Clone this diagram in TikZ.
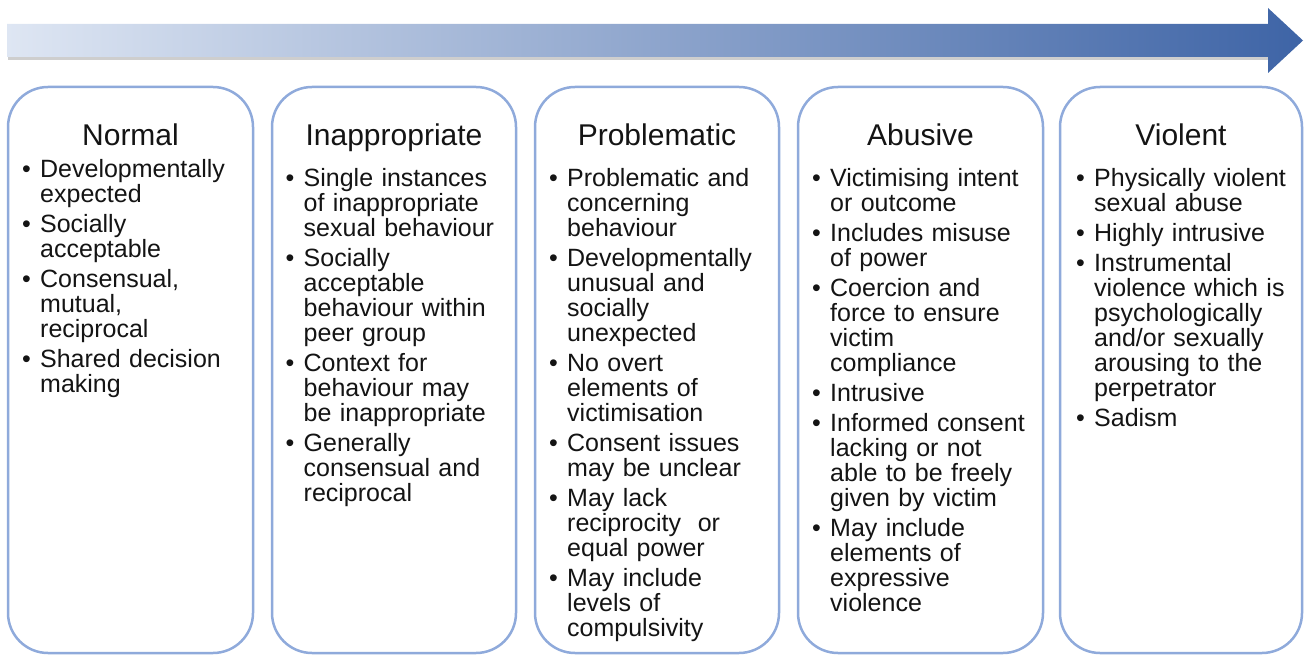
\documentclass[tikz,border=0pt]{standalone}
\usepackage{fontspec}
\setmainfont{Liberation Sans}
\definecolor{panelblue}{RGB}{143,170,219}
\definecolor{arrowlight}{RGB}{222,230,243}
\definecolor{arrowdark}{RGB}{62,100,166}
\definecolor{inktext}{RGB}{20,20,20}
\newcommand\firstbul{\parskip=5pt\hangindent=18pt\hangafter=1\makebox[18pt][l]{\textbullet}}
\newcommand\bul{\par\hangindent=18pt\hangafter=1\noindent\makebox[18pt][l]{\textbullet}}
\tikzset{
  panel/.style={draw=panelblue, line width=2.5pt, rounded corners=40pt, fill=white,
    inner sep=0pt, minimum height=566pt},
  paneltitle/.style={font=\fontsize{30}{34}\selectfont, text=inktext, anchor=base, inner sep=0pt},
  panelbody/.style={font=\fontsize{25}{25}\selectfont, text=inktext, anchor=base west,
    inner sep=0pt, text width=228pt, align=left},
}
\begin{document}
\begin{tikzpicture}[x=1pt,y=-1pt]
\useasboundingbox (0,0) rectangle (1304,655);
% arrow shadow
\fill[gray!55, opacity=0.7] (8,27) -- (1268,27) -- (1268,60) -- (8,60) -- cycle;
% arrow
\shade[left color=arrowlight, right color=arrowdark]
  (7,24) -- (1268,24) -- (1268,8) -- (1303,40.5) -- (1268,73) -- (1268,57) -- (7,57) -- cycle;
% panels
\node[panel, minimum width=245pt] (p1) at (130.5,370) {};
\node[panel, minimum width=244pt] (p2) at (394,370) {};
\node[panel, minimum width=244pt] (p3) at (657,370) {};
\node[panel, minimum width=245pt] (p4) at (920.5,370) {};
\node[panel, minimum width=242pt] (p5) at (1181,370) {};
% titles
\node[paneltitle] (t1) at (130.5,146) {Normal};
\node[paneltitle] (t2) at (394,146) {Inappropriate};
\node[paneltitle] (t3) at (657,146) {Problematic};
\node[paneltitle] (t4) at (920.5,146) {Abusive};
\node[paneltitle] (t5) at (1181,146) {Violent};
% bodies
\node[panelbody] (b1) at (22,178) {\firstbul Developmentally\newline expected
\bul Socially\newline acceptable
\bul Consensual,\newline mutual,\newline reciprocal
\bul Shared decision\newline making\par};
\node[panelbody] (b2) at (285.5,187) {\firstbul Single instances\newline of inappropriate\newline sexual behaviour
\bul Socially\newline acceptable\newline behaviour within\newline peer group
\bul Context for\newline behaviour may\newline be inappropriate
\bul Generally\newline consensual and\newline reciprocal\par};
\node[panelbody] (b3) at (549,187) {\firstbul Problematic and\newline concerning\newline behaviour
\bul Developmentally\newline unusual and\newline socially\newline unexpected
\bul No overt\newline elements of\newline victimisation
\bul Consent issues\newline may be unclear
\bul May lack\newline reciprocity\ \ or\newline equal power
\bul May include\newline levels of\newline compulsivity\par};
\node[panelbody] (b4) at (812,187) {\firstbul Victimising intent\newline or outcome
\bul Includes misuse\newline of power
\bul Coercion and\newline force to ensure\newline victim\newline compliance
\bul Intrusive
\bul Informed consent\newline lacking or not\newline able to be freely\newline given by victim
\bul May include\newline elements of\newline expressive\newline violence\par};
\node[panelbody] (b5) at (1076,187) {\firstbul Physically violent\newline sexual abuse
\bul Highly intrusive
\bul Instrumental\newline violence which is\newline psychologically\newline and/or sexually\newline arousing to the\newline perpetrator
\bul Sadism\par};
\end{tikzpicture}
\end{document}
